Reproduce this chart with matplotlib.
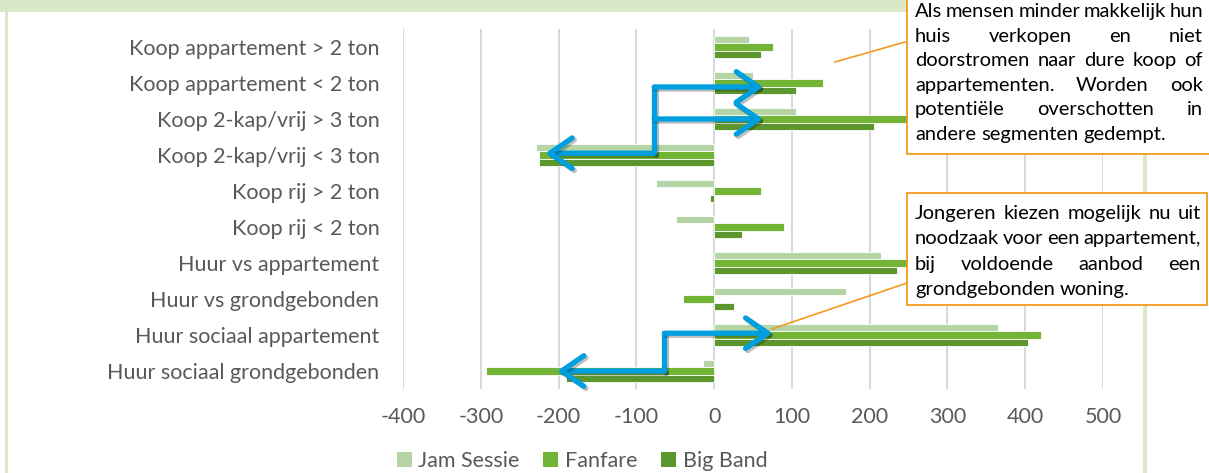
import matplotlib
matplotlib.use("Agg")
import matplotlib.pyplot as plt
import matplotlib.patheffects as pe
from matplotlib.patches import Rectangle, Patch
from matplotlib.lines import Line2D
import numpy as np

# gegevens
categories = [
    "Koop appartement > 2 ton",
    "Koop appartement < 2 ton",
    "Koop 2-kap/vrij > 3 ton",
    "Koop 2-kap/vrij < 3 ton",
    "Koop rij > 2 ton",
    "Koop rij < 2 ton",
    "Huur vs appartement",
    "Huur vs grondgebonden",
    "Huur sociaal appartement",
    "Huur sociaal grondgebonden",
]
jam_sessie = [45, 50, 105, -229, -75, -49, 215, 170, 365, -14]
fanfare = [76, 140, 300, -225, 60, 90, 255, -40, 420, -293]
big_band = [60, 105, 205, -225, -5, 36, 235, 25, 404, -190]
series_names = ["Jam Sessie", "Fanfare", "Big Band"]
xticks = [-400, -300, -200, -100, 0, 100, 200, 300, 400, 500]

note_1_lines = ["Als mensen minder makkelijk hun", "huis verkopen en niet",
                "doorstromen naar dure koop of", "appartementen. Worden ook",
                "potentiële overschotten in", "andere segmenten gedempt."]
note_2_lines = ["Jongeren kiezen mogelijk nu uit", "noodzaak voor een appartement,",
                "bij voldoende aanbod een", "grondgebonden woning."]

colors = ["#B5D5A6", "#72B536", "#5C962F"]
grey = "#595959"
frame_green = "#D9E8C6"
orange = "#F39A1E"
blue = "#009FE0"

W, H = 1209, 473
plt.rcParams["font.family"] = ["Lato", "DejaVu Sans"]

fig = plt.figure(figsize=(W / 100, H / 100), dpi=100)
fig.patch.set_facecolor("white")

def fx(px):
    return px / W

def fy(py):
    return 1 - py / H

# kader
fig.add_artist(Rectangle((0, fy(12)), 1, 12 / H, transform=fig.transFigure,
                         facecolor=frame_green, edgecolor="none", zorder=1))
fig.add_artist(Rectangle((fx(5), 0), 3 / W, fy(12), transform=fig.transFigure,
                         facecolor=frame_green, edgecolor="none", zorder=1))
fig.add_artist(Rectangle((fx(1143), 0), 4 / W, fy(12), transform=fig.transFigure,
                         facecolor=frame_green, edgecolor="none", zorder=1))

ax = fig.add_axes([fx(403), fy(389), (1103 - 403) / W, 360 / H])
ax.set_facecolor("none")
ax.set_zorder(2)

y = np.arange(len(categories))
h = 0.205
for i, (vals, name) in enumerate(zip([jam_sessie, fanfare, big_band], series_names)):
    ax.barh(y + (i - 1) * h, vals, height=h, color=colors[i], edgecolor="white",
            linewidth=0.6, label=name, zorder=3)

ax.set_xlim(-400, 500)
ax.set_ylim(len(categories) - 0.5, -0.5)
ax.set_xticks(xticks)
ax.set_xticklabels([str(t) for t in xticks])
ax.set_yticks(y)
ax.set_yticklabels(categories)
ax.tick_params(axis="both", length=0, labelsize=15.5, labelcolor=grey)
ax.tick_params(axis="y", pad=17)
ax.tick_params(axis="x", pad=13)
ax.grid(axis="x", color="#D9D9D9", linewidth=1.5, zorder=0)
ax.set_axisbelow(True)
for s in ax.spines.values():
    s.set_visible(False)

# blauwe pijlen
fx_line = [pe.SimpleLineShadow(offset=(1.5, -1.5), alpha=0.25), pe.Normal()]

def draw_arrow(x0, y0, x1, y1):
    ax.annotate("", xy=(x1, y1), xytext=(x0, y0), annotation_clip=False,
                arrowprops=dict(arrowstyle="->, head_length=0.8, head_width=0.55",
                                lw=3.8, color=blue, shrinkA=0, shrinkB=0,
                                mutation_scale=20, joinstyle="round",
                                capstyle="round", path_effects=fx_line), zorder=6)

ax.plot([-77, -77], [1.11, 2.95], color=blue, lw=3.8, solid_capstyle="round",
        zorder=6, path_effects=fx_line, clip_on=False)
draw_arrow(-77, 1.11, 63, 1.11)
draw_arrow(-77, 2.0, 63, 2.0)
draw_arrow(-77, 2.95, -217, 2.95)

ax.plot([-64, -64], [7.95, 9.0], color=blue, lw=3.8, solid_capstyle="round",
        zorder=6, path_effects=fx_line, clip_on=False)
draw_arrow(-64, 7.95, 75, 7.95)
draw_arrow(-64, 9.0, -202, 9.0)

# legenda
handles = [Patch(facecolor=c, edgecolor="none") for c in colors]
fig.legend(handles, series_names, loc="center", bbox_to_anchor=(fx(582), fy(461)),
           ncol=3, frameon=False, fontsize=15.5, labelcolor=grey,
           handlelength=0.7, handleheight=0.7, handletextpad=0.3,
           columnspacing=1.1, borderpad=0)

# oranje verbindingslijnen
fig.add_artist(Line2D([fx(835), fx(905)], [fy(62), fy(42)], color=orange, lw=1.2,
                      transform=fig.transFigure, zorder=7))
fig.add_artist(Line2D([fx(772), fx(907)], [fy(329), fy(283)], color=orange, lw=1.2,
                      transform=fig.transFigure, zorder=7))

# tekstvakken
fig.add_artist(Rectangle((fx(907), fy(154)), (1230 - 907) / W, 170 / H,
                         transform=fig.transFigure, facecolor="white",
                         edgecolor=orange, lw=1.3, zorder=8))
fig.add_artist(Rectangle((fx(907), fy(305)), (1207 - 907) / W, 112 / H,
                         transform=fig.transFigure, facecolor="white",
                         edgecolor=orange, lw=1.3, zorder=8))

renderer = fig.canvas.get_renderer()

def justified(lines, left, right, top, step, size=14.5):
    a2 = fig.text(0, 0, "a a", fontsize=size)
    a1 = fig.text(0, 0, "aa", fontsize=size)
    space = a2.get_window_extent(renderer).width - a1.get_window_extent(renderer).width
    a2.remove()
    a1.remove()
    for k, line in enumerate(lines):
        words = line.split(" ")
        ypos = fy(top + k * step)
        texts = [fig.text(0, ypos, w, fontsize=size, color="black", va="baseline",
                          zorder=9) for w in words]
        widths = [t.get_window_extent(renderer).width for t in texts]
        if k == len(lines) - 1 or len(words) == 1:
            gap = space
        else:
            gap = (right - left - sum(widths)) / (len(words) - 1)
        xpos = left
        for t, w in zip(texts, widths):
            t.set_x(fx(xpos))
            xpos += w + gap

justified(note_1_lines, 915, 1203, 17, 24.6)
justified(note_2_lines, 915, 1201, 219, 25.3)

fig.savefig("out.png", dpi=100)
